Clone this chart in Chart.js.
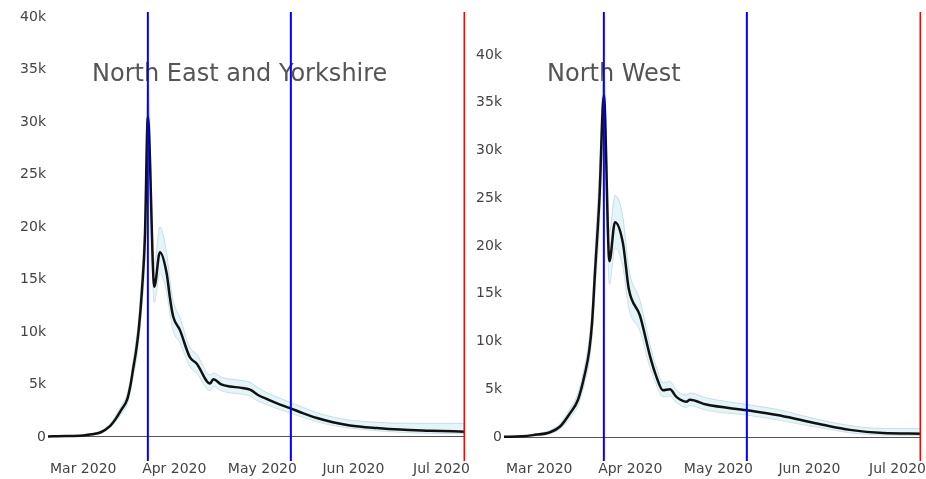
<!DOCTYPE html>
<html>
<head>
<meta charset="utf-8">
<script src="https://cdn.jsdelivr.net/npm/chart.js@4.4.0/dist/chart.umd.min.js"></script>
<style>
  html, body { margin: 0; padding: 0; background: #fff; overflow: hidden; }
  #wrap { position: relative; width: 926px; height: 479px; }
  canvas { position: absolute; top: 0; }
  #neChart { left: 0; }
  #nwChart { left: 466px; }
</style>
</head>
<body>
<div id="wrap">
  <canvas id="neChart" width="480" height="479"></canvas>
  <canvas id="nwChart" width="475" height="479"></canvas>
</div>
<script>
'use strict';

// x is days since 1 Mar 2020, y is in thousands
var monthDays = [0, 31, 61, 92, 122];
var monthLabels = ['Mar 2020', 'Apr 2020', 'May 2020', 'Jun 2020', 'Jul 2020'];
var yTicks = [0, 5, 10, 15, 20, 25, 30, 35, 40];
var yTickLabels = ['0', '5k', '10k', '15k', '20k', '25k', '30k', '35k', '40k'];

// blue: lockdown dates, red: end of range
var blueLines = [22, 70.7];
var redLines = [130];

// North East and Yorkshire
var neTitle = 'North East and Yorkshire';
var neDays = [-12, -6, 0, 3, 6, 9, 11, 13, 15, 16, 17, 18, 19, 20, 21, 22, 24.2, 26.1, 28.4, 29.5,
  30.6, 32.9, 36.3, 38.6, 43.2, 44.3, 47, 50, 53.4, 56.8, 59.5, 62.6, 66, 70.4, 75, 79.6, 85, 90.8, 100, 107.9, 118, 130];
var neMid = [0.05, 0.08, 0.15, 0.25, 0.45, 1.0, 1.7, 2.6, 3.6, 4.8, 6.5, 8.2, 10.5, 14.0, 19.0, 30.5, 14.3, 17.6, 15.6, 13.3,
  11.5, 10.2, 7.6, 7.0, 5.1, 5.5, 5.0, 4.8, 4.7, 4.5, 4.0, 3.6, 3.2, 2.75, 2.25, 1.8, 1.4, 1.1, 0.85, 0.7, 0.6, 0.5];
var neUpper = [0.08, 0.12, 0.22, 0.35, 0.6, 1.2, 2.0, 3.0, 4.1, 5.4, 7.3, 9.2, 11.8, 15.8, 21.5, 33.5, 16.5, 20.0, 17.5, 15.0,
  13.0, 11.4, 8.5, 7.9, 5.9, 6.1, 5.7, 5.5, 5.4, 5.2, 4.7, 4.2, 3.8, 3.3, 2.8, 2.3, 1.9, 1.6, 1.4, 1.3, 1.3, 1.3];
var neLower = [0.03, 0.05, 0.1, 0.18, 0.35, 0.85, 1.45, 2.2, 3.1, 4.2, 5.7, 7.2, 9.3, 12.4, 16.8, 27.5, 12.8, 15.6, 13.8, 11.8,
  10.1, 9.0, 6.7, 6.1, 4.4, 4.8, 4.4, 4.2, 4.1, 3.9, 3.4, 3.1, 2.7, 2.3, 1.85, 1.45, 1.1, 0.85, 0.6, 0.45, 0.35, 0.3];

// North West
var nwTitle = 'North West';
var nwDays = [-12, -6, -2.1, 3.7, 7.1, 10.5, 13.2, 15.6, 17, 18, 19, 20.5, 22, 23.9, 25.8, 28.5, 30.5, 34.3, 37.7, 39.8,
  42.1, 44.5, 46.7, 50.1, 51.3, 56.9, 70.7, 81, 88.8, 97, 105.8, 117, 130];
var nwMid = [0.03, 0.08, 0.2, 0.5, 1.1, 2.5, 3.9, 6.7, 9.0, 12.0, 17.3, 25, 35.8, 18.4, 22.5, 20.3, 15.5, 12.7, 8.5, 6.4,
  4.9, 5.0, 4.2, 3.7, 3.9, 3.4, 2.8, 2.3, 1.8, 1.25, 0.75, 0.42, 0.35];
var nwUpper = [0.05, 0.12, 0.3, 0.7, 1.4, 3.0, 4.6, 7.7, 10.3, 13.6, 19.5, 28, 38.5, 21.5, 25.3, 23, 17.6, 14.3, 9.7, 7.4,
  5.7, 5.8, 4.9, 4.4, 4.6, 4.1, 3.4, 2.9, 2.3, 1.7, 1.2, 0.9, 0.9];
var nwLower = [0.01, 0.05, 0.12, 0.35, 0.85, 2.0, 3.3, 5.8, 7.8, 10.5, 15.2, 22, 33, 16, 19.8, 17.8, 13.5, 11.1, 7.3, 5.5,
  4.2, 4.3, 3.6, 3.1, 3.3, 2.8, 2.3, 1.8, 1.35, 0.9, 0.45, 0.2, 0.15];

var FONT = "'DejaVu Sans', Verdana, sans-serif";

function pts(xs, ys) {
  var out = [];
  for (var i = 0; i < xs.length; i++) out.push({ x: xs[i], y: ys[i] });
  return out;
}

function vline(x, yMin, yMax, colour, width) {
  return {
    data: [{ x: x, y: yMin }, { x: x, y: yMax }],
    borderColor: colour, borderWidth: width, pointRadius: 0, fill: false, order: 0
  };
}

// panel title sits inside the plot, under the vertical lines
var titlePlugin = {
  id: 'panelTitle',
  beforeDatasetsDraw: function(chart, args, opts) {
    var ctx = chart.ctx;
    ctx.save();
    ctx.font = '24px ' + FONT;
    ctx.fillStyle = '#555';
    ctx.textBaseline = 'middle';
    ctx.textAlign = 'left';
    ctx.fillText(opts.text, opts.x, opts.y);
    ctx.restore();
  }
};

function makePanel(id, title, titleX, days, mid, upper, lower, yMin, yMax, yWidth, padRight) {
  var datasets = [];
  blueLines.forEach(function(d) { datasets.push(vline(d, yMin, yMax, '#0000ff', 2)); });
  redLines.forEach(function(d) { datasets.push(vline(d, yMin, yMax, '#ff0000', 3)); });
  datasets.push({
    data: pts(days, mid), borderColor: '#111', borderWidth: 2.5, pointRadius: 0,
    cubicInterpolationMode: 'monotone', fill: false, order: 1
  });
  datasets.push({
    data: pts(days, upper), borderColor: 'rgba(175,200,210,0.6)', borderWidth: 1, pointRadius: 0,
    backgroundColor: 'rgba(200,235,242,0.5)', cubicInterpolationMode: 'monotone', fill: '+1', order: 2
  });
  datasets.push({
    data: pts(days, lower), borderColor: 'rgba(175,200,210,0.6)', borderWidth: 1, pointRadius: 0,
    cubicInterpolationMode: 'monotone', fill: false, order: 2
  });

  return new Chart(document.getElementById(id), {
    type: 'line',
    data: { datasets: datasets },
    plugins: [titlePlugin],
    options: {
      responsive: false,
      animation: false,
      devicePixelRatio: 1,
      layout: { padding: { top: 12, right: padRight, left: 0, bottom: 0 } },
      plugins: {
        legend: { display: false },
        tooltip: { enabled: false },
        panelTitle: { text: title, x: titleX, y: 75 }
      },
      scales: {
        x: {
          type: 'linear', min: -12, max: 130,
          afterBuildTicks: function(scale) {
            scale.ticks = monthDays.map(function(v) { return { value: v }; });
          },
          afterFit: function(scale) { scale.height = 18; },
          ticks: {
            autoSkip: false, maxRotation: 0, padding: 0, color: '#444',
            font: { family: FONT, size: 14 },
            callback: function(v, i) { return monthLabels[i]; }
          },
          grid: { display: false, drawTicks: false },
          border: { display: false }
        },
        y: {
          min: yMin, max: yMax,
          afterBuildTicks: function(scale) {
            scale.ticks = yTicks.map(function(v) { return { value: v }; });
          },
          afterFit: function(scale) { scale.width = yWidth; },
          ticks: {
            padding: 2, color: '#444',
            font: { family: FONT, size: 14 },
            callback: function(v, i) { return yTickLabels[i]; }
          },
          grid: {
            drawTicks: false,
            lineWidth: 1,
            color: function(c) { return c.tick && c.tick.value === 0 ? '#555' : 'rgba(0,0,0,0)'; }
          },
          border: { display: false }
        }
      }
    }
  });
}

makePanel('neChart', neTitle, 92, neDays, neMid, neUpper, neLower, -2.29, 40.48, 48, 15);
makePanel('nwChart', nwTitle, 81, nwDays, nwMid, nwUpper, nwLower, -2.51, 44.5, 38, 20);
</script>
</body>
</html>
